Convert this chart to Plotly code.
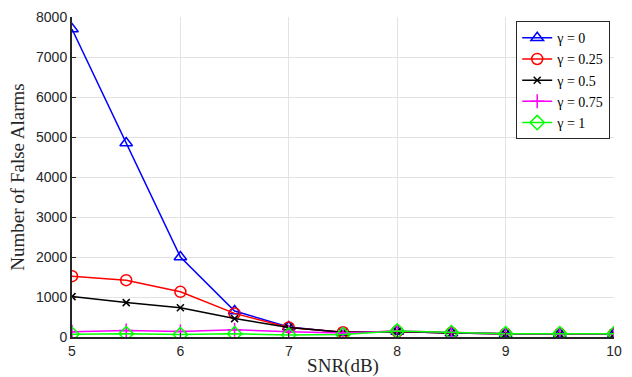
import plotly.graph_objects as go

snr = [5, 5.5, 6, 6.5, 7, 7.5, 8, 8.5, 9, 9.5, 10]
g0 = [7700, 4850, 2000, 650, 250, 110, 140, 100, 80, 80, 80]
g025 = [1520, 1420, 1130, 590, 240, 120, 140, 100, 80, 80, 80]
g05 = [1010, 860, 730, 460, 240, 120, 140, 100, 80, 80, 80]
g075 = [130, 160, 140, 180, 130, 100, 150, 110, 80, 80, 80]
g1 = [70, 80, 60, 80, 50, 60, 150, 110, 80, 80, 80]

series = [
    ("γ = 0", g0, "#0000ff", "triangle-up-open", 11),
    ("γ = 0.25", g025, "#ff0000", "circle-open", 11),
    ("γ = 0.5", g05, "#000000", "x-thin-open", 7),
    ("γ = 0.75", g075, "#ff00ff", "cross-thin-open", 10),
    ("γ = 1", g1, "#00ff00", "diamond-open", 11),
]

fig = go.Figure()
for name, ys, color, sym, sz in series:
    fig.add_trace(go.Scatter(
        x=snr, y=ys, name=name, mode="lines+markers",
        line=dict(color=color, width=1.5),
        marker=dict(symbol=sym, size=sz, color=color, line=dict(color=color, width=1.5)),
    ))

axis_font = dict(family="Liberation Sans, Arial", size=14, color="#262626")
title_font = dict(family="Liberation Serif, DejaVu Serif", size=19, color="#262626")
fig.update_layout(
    width=632, height=377,
    margin=dict(l=72, r=18, t=17, b=40),
    paper_bgcolor="white", plot_bgcolor="white",
    showlegend=True,
    legend=dict(x=0.993, y=0.987, xanchor="right", yanchor="top",
                bgcolor="white", bordercolor="#262626", borderwidth=1,
                font=dict(family="Liberation Serif, DejaVu Serif", size=14, color="#000000"),
                itemwidth=30, tracegroupgap=0),
    xaxis=dict(range=[5, 10], tickvals=[5, 6, 7, 8, 9, 10],
               showgrid=True, gridcolor="#e3e3e3", gridwidth=1,
               showline=True, linecolor="#262626", linewidth=2,
               ticks="inside", ticklen=4, tickcolor="#262626",
               zeroline=False, tickfont=axis_font, automargin=False,
               title=dict(text="SNR(dB)", standoff=4, font=title_font)),
    yaxis=dict(range=[0, 8000], tickvals=list(range(0, 8001, 1000)),
               showgrid=True, gridcolor="#e3e3e3", gridwidth=1,
               showline=True, linecolor="#262626", linewidth=2,
               ticks="inside", ticklen=4, tickcolor="#262626",
               zeroline=False, tickfont=axis_font, automargin=False,
               title=dict(text="Number of False Alarms", standoff=6, font=title_font)),
)

fig.write_html("out.html", config={"displayModeBar": False},
               post_script="document.body.style.margin='0';document.body.style.overflow='hidden';")
